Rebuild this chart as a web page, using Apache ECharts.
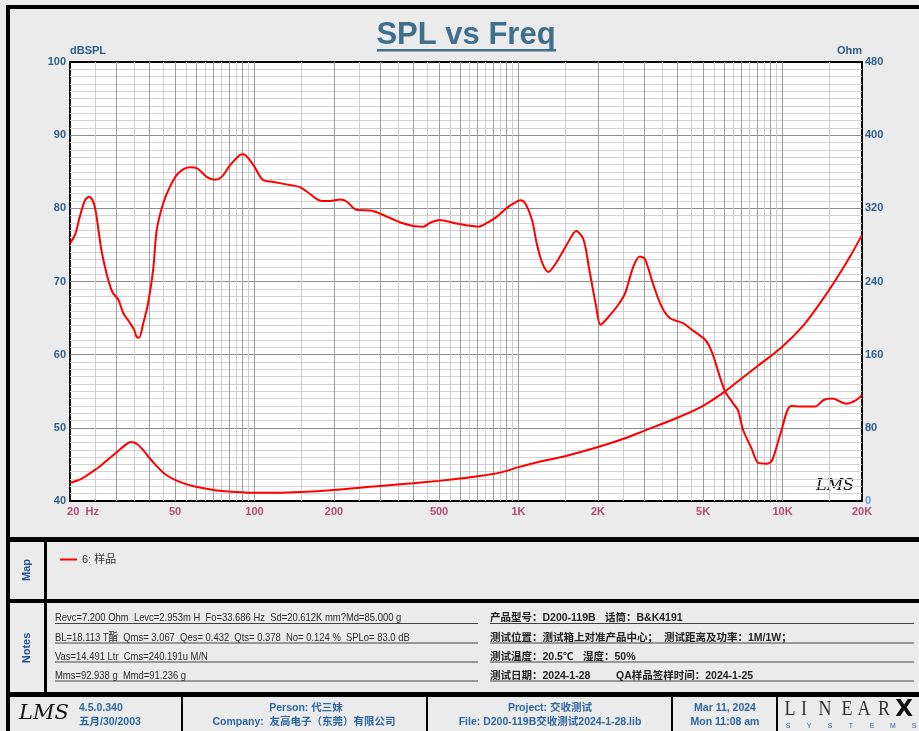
<!DOCTYPE html>
<html><head><meta charset="utf-8">
<script src="https://cdn.jsdelivr.net/npm/echarts@6/dist/echarts.min.js"></script>
<style>html,body{margin:0;padding:0;background:#ebebeb}#c{width:919px;height:731px}</style>
</head><body><div id="c"></div><script>
// ---- data ----
const splFreq = [20,20.9,21.8,22.8,23.6,24.5,25.1,26.3,27.5,28.9,30.5,31.8,33.5,35,35.7,36.5,37.9,39.5,41.3,42.6,45.1,47.9,51.4,57,60.4,65.9,70.8,75.1,80.8,88,90.7,99,107.4,117.8,136,148.6,157.6,179.7,193,211,224,243,275,298,355,399,437,461,503,569,634,704,759,831,906,962,1015,1059,1125,1172,1231,1297,1385,1532,1655,1763,1854,1968,2045,2220,2405,2534,2720,2880,3010,3230,3480,3740,4200,4530,5100,5420,6020,6480,6780,7090,7630,8100,8730,9140,9840,10780,11800,13270,14310,15430,17400,19000,20000];
const splDb = [75.2,76.4,78.9,81.1,81.6,80.9,79.3,74.3,71.1,68.6,67.5,65.7,64.5,63.4,62.5,62.3,64.3,67.0,71.6,77.0,80.7,83.0,84.8,85.6,85.5,84.3,83.9,84.3,85.9,87.3,87.4,85.9,83.9,83.6,83.2,82.9,82.3,81.0,81.0,81.2,80.9,79.8,79.7,79.3,78.1,77.6,77.5,78.0,78.4,78.0,77.7,77.5,78.0,78.9,80.1,80.7,81.1,80.7,78.4,75.2,72.5,71.3,72.5,75.2,76.9,75.7,71.6,66.6,64.1,65.4,67.0,68.4,72.0,73.4,73.1,69.7,66.6,65.0,64.3,63.4,62.0,60.2,55.2,53.4,52.4,49.7,47.2,45.2,45.1,45.6,49.3,53.0,52.9,52.9,53.8,54.0,53.3,53.8,54.5];
const impFreq = [20,22,24,26,28,30,32,34,36,38,40,42,44,46,50,55,60,70,80,90,100,120,150,200,250,300,400,500,600,700,850,1000,1200,1500,2000,2500,3000,4000,5000,6000,7000,8000,10000,12000,14000,16000,18000,20000];
const impOhm = [20,24,31,38,46,53,60,64.5,62,55,47,40,34,29,23,18.5,15.5,12,10.3,9.5,9,9,9.8,12,14.5,16.5,19.5,22,24.5,27,31,37,43,49,59,68,77,91,104,119,134,147,169,192,218,243,267,291];
const xTickValues = [20,50,100,200,500,1000,2000,5000,10000,20000];
const xTickText = ['20  Hz','50','100','200','500','1K','2K','5K','10K','20K'];
const gridFreqMain = [30,40,50,60,70,80,90,100,200,300,400,500,600,700,800,900,1000,2000,3000,4000,5000,6000,7000,8000,9000,10000];
const gridFreqHalf = [25,35,45,55,65,75,85,95,150,250,350,450,550,650,750,850,950,1500,2500,3500,4500,5500,6500,7500,8500,9500,15000];
const Y_MIN = 40, Y_MAX = 100, Y_STEP = 10;
const Z_MIN = 0, Z_MAX = 480, Z_STEP = 80;
const seriesName = '6: 样品';

const FONT = 'Arial, "Liberation Sans", "Noto Sans CJK SC", sans-serif';
const BLUE = '#2f5f90';
const FOOT = '#2e67a3';

const zip = (a, b) => a.map((v, i) => [v, b[i]]);

function txt(x, y, text, o, extra) {
  return Object.assign({type:'text', x, y, silent:true,
    style: Object.assign({text, fontFamily: FONT, fontSize: 11, fill:'#333', verticalAlign:'middle', align:'left'}, o || {})}, extra || {});
}
function box(x, y, w, h, c) { return {type:'rect', silent:true, shape:{x, y, width:w, height:h}, style:{fill:c || '#000'}}; }
function hline(x1, x2, y) { return {type:'line', silent:true, shape:{x1, y1:y, x2, y2:y}, style:{stroke:'#444', lineWidth:1}}; }

const graphics = [
  box(6,5,913,4), box(6,5,4,726), box(6,537,913,5), box(6,599,913,4), box(6,692,913,5),
  box(44,540,3,155),
  box(181,695,2,36), box(426,695,2,36), box(671,695,2,36), box(776,695,2,36),
  txt(466,35,'SPL vs Freq',{fontSize:31, fontWeight:'bold', fill:'#3e6f8d', align:'center'}),
  box(377,49,179,2.5,'#3e6f8d'),
  txt(816,486,'LMS',{fontSize:16, fontStyle:'italic', fontFamily:'"DejaVu Serif", serif', fill:'#111'}),
  txt(27,570,'Map',{fontSize:11, fontWeight:'bold', fill:'#1f4f9a', align:'center'}, {rotation:Math.PI/2}),
  txt(27,648,'Notes',{fontSize:11, fontWeight:'bold', fill:'#1f4f9a', align:'center'}, {rotation:Math.PI/2}),
];
const notesL = ['Revc=7.200 Ohm  Levc=2.953m H  Fo=33.686 Hz  Sd=20.612K mm?Md=85.000 g',
  'BL=18.113 T酯  Qms= 3.067  Qes= 0.432  Qts= 0.378  No= 0.124 %  SPLo= 83.0 dB',
  'Vas=14.491 Ltr  Cms=240.191u M/N',
  'Mms=92.938 g  Mmd=91.236 g'];
const rowY = [618, 638, 657, 676];
const lineY = [623.5, 643, 662, 681];
notesL.forEach((t, i) => {
  graphics.push(txt(55, rowY[i], t, {fontSize:11.5, fill:'#2a2a2a'}, {scaleX:0.82}));
  graphics.push(hline(55, 478, lineY[i]));
  graphics.push(hline(490, 914, lineY[i]));
});
const R = {fontSize:10.5, fontWeight:'bold', fill:'#222'};
graphics.push(txt(490,rowY[0],'产品型号：D200-119B',R), txt(605,rowY[0],'话筒：B&K4191',R));
graphics.push(txt(490,rowY[1],'测试位置：测试箱上对准产品中心；',R), txt(664,rowY[1],'测试距离及功率：1M/1W；',R));
graphics.push(txt(490,rowY[2],'测试温度：20.5℃',R), txt(583,rowY[2],'湿度：50%',R));
graphics.push(txt(490,rowY[3],'测试日期：2024-1-28',R), txt(616,rowY[3],'QA样品签样时间：2024-1-25',R));
const F = {fontSize:10.5, fontWeight:'bold', fill:FOOT};
const FC = Object.assign({align:'center'}, F);
graphics.push(txt(19,714,'LMS',{fontSize:21, fontStyle:'italic', fontFamily:'"DejaVu Serif", serif', fill:'#111'}));
graphics.push(txt(79,708,'4.5.0.340',F), txt(79,722,'五月/30/2003',F));
graphics.push(txt(306,708,'Person: 代三妹',FC), txt(304,722,'Company:  友高电子（东莞）有限公司',FC));
graphics.push(txt(550,708,'Project: 交收测试',FC), txt(550,722,'File: D200-119B交收测试2024-1-28.lib',FC));
graphics.push(txt(725,708,'Mar 11, 2024',FC), txt(725,722,'Mon 11:08 am',FC));
['L','I','N','E','A','R'].forEach((c, i) => graphics.push(txt([790,804,825,847,864,884][i],710,c,{fontSize:20, fontFamily:'"Liberation Serif", serif', fill:'#333', align:'center'}, {scaleX:0.9})));
graphics.push(txt(904,710,'X',{fontSize:23, fontWeight:'bold', fontFamily:'"DejaVu Sans", sans-serif', fill:'#111', align:'center'}));
'SYSTEMS'.split('').forEach((c, i) => graphics.push(txt(788 + i*21, 726, c, {fontSize:7, fill:FOOT, align:'center'})));

const chart = echarts.init(document.getElementById('c'));
chart.setOption({
  animation:false,
  backgroundColor:'#ebebeb',
  textStyle:{fontFamily:FONT},
  grid:{left:70, top:62, width:792, height:439, show:true, backgroundColor:'#fff', borderColor:'#000', borderWidth:2, containLabel:false, outerBoundsMode:'none'},
  legend:{data:[seriesName], left:55, top:549, icon:'rect', itemWidth:17, itemHeight:2, selectedMode:false,
    textStyle:{fontSize:11, color:'#333', fontFamily:FONT}},
  xAxis:{type:'log', logBase:10, min:20, max:20000, axisLine:{show:false}, axisTick:{show:false}, axisLabel:{show:false}, splitLine:{show:false}},
  yAxis:[
    {type:'value', min:Y_MIN, max:Y_MAX, interval:Y_STEP, position:'left', name:'dBSPL', nameLocation:'end', nameGap:4,
     nameTextStyle:{align:'left', color:BLUE, fontWeight:'bold', fontSize:11},
     axisLine:{show:false}, axisTick:{show:false},
     axisLabel:{color:BLUE, fontWeight:'bold', fontSize:11, margin:4},
     splitLine:{show:true, showMinLine:false, showMaxLine:false, lineStyle:{color:'#8e8e8e', width:1}},
     minorTick:{show:false, splitNumber:10},
     minorSplitLine:{show:true, lineStyle:{color:'#d2d2d2', width:1}}},
    {type:'value', min:Z_MIN, max:Z_MAX, interval:Z_STEP, position:'right', name:'Ohm', nameLocation:'end', nameGap:4,
     nameTextStyle:{align:'right', color:BLUE, fontWeight:'bold', fontSize:11},
     axisLine:{show:false}, axisTick:{show:false}, splitLine:{show:false},
     axisLabel:{color:(v) => (+v === 0 ? '#5b9bd5' : BLUE), fontWeight:'bold', fontSize:11, margin:3}}
  ],
  graphic:{elements:graphics},
  series:[
    {type:'scatter', name:'ticks', silent:true, z:1, symbolSize:0, clip:false,
     data:xTickValues.map((v, i) => i === 0 ? {value:[v, Y_MIN], label:{offset:[13,0]}} : [v, Y_MIN]),
     label:{show:true, position:'bottom', distance:5, color:'#a8225b', fontWeight:'bold', fontSize:11, fontFamily:FONT,
       formatter:(p) => xTickText[p.dataIndex]},
     markLine:{silent:true, symbol:['none','none'], z:1, label:{show:false}, animation:false,
       lineStyle:{type:'solid', width:1},
       data:gridFreqMain.map(v => ({xAxis:v, lineStyle:{color:'#9e9e9e', type:'solid', width:1}}))
         .concat(gridFreqHalf.map(v => ({xAxis:v, lineStyle:{color:'#cecece', type:'solid', width:1}})))}},
    {type:'line', name:seriesName, yAxisIndex:0, z:4, data:zip(splFreq, splDb), symbol:'none', smooth:0.3,
     lineStyle:{color:'#ff0000', width:2}, itemStyle:{color:'#ff0000'}},
    {type:'line', name:seriesName, yAxisIndex:1, z:4, data:zip(impFreq, impOhm), symbol:'none', smooth:0.3,
     lineStyle:{color:'#ff0000', width:2}, itemStyle:{color:'#ff0000'}}
  ]
});
</script></body></html>
